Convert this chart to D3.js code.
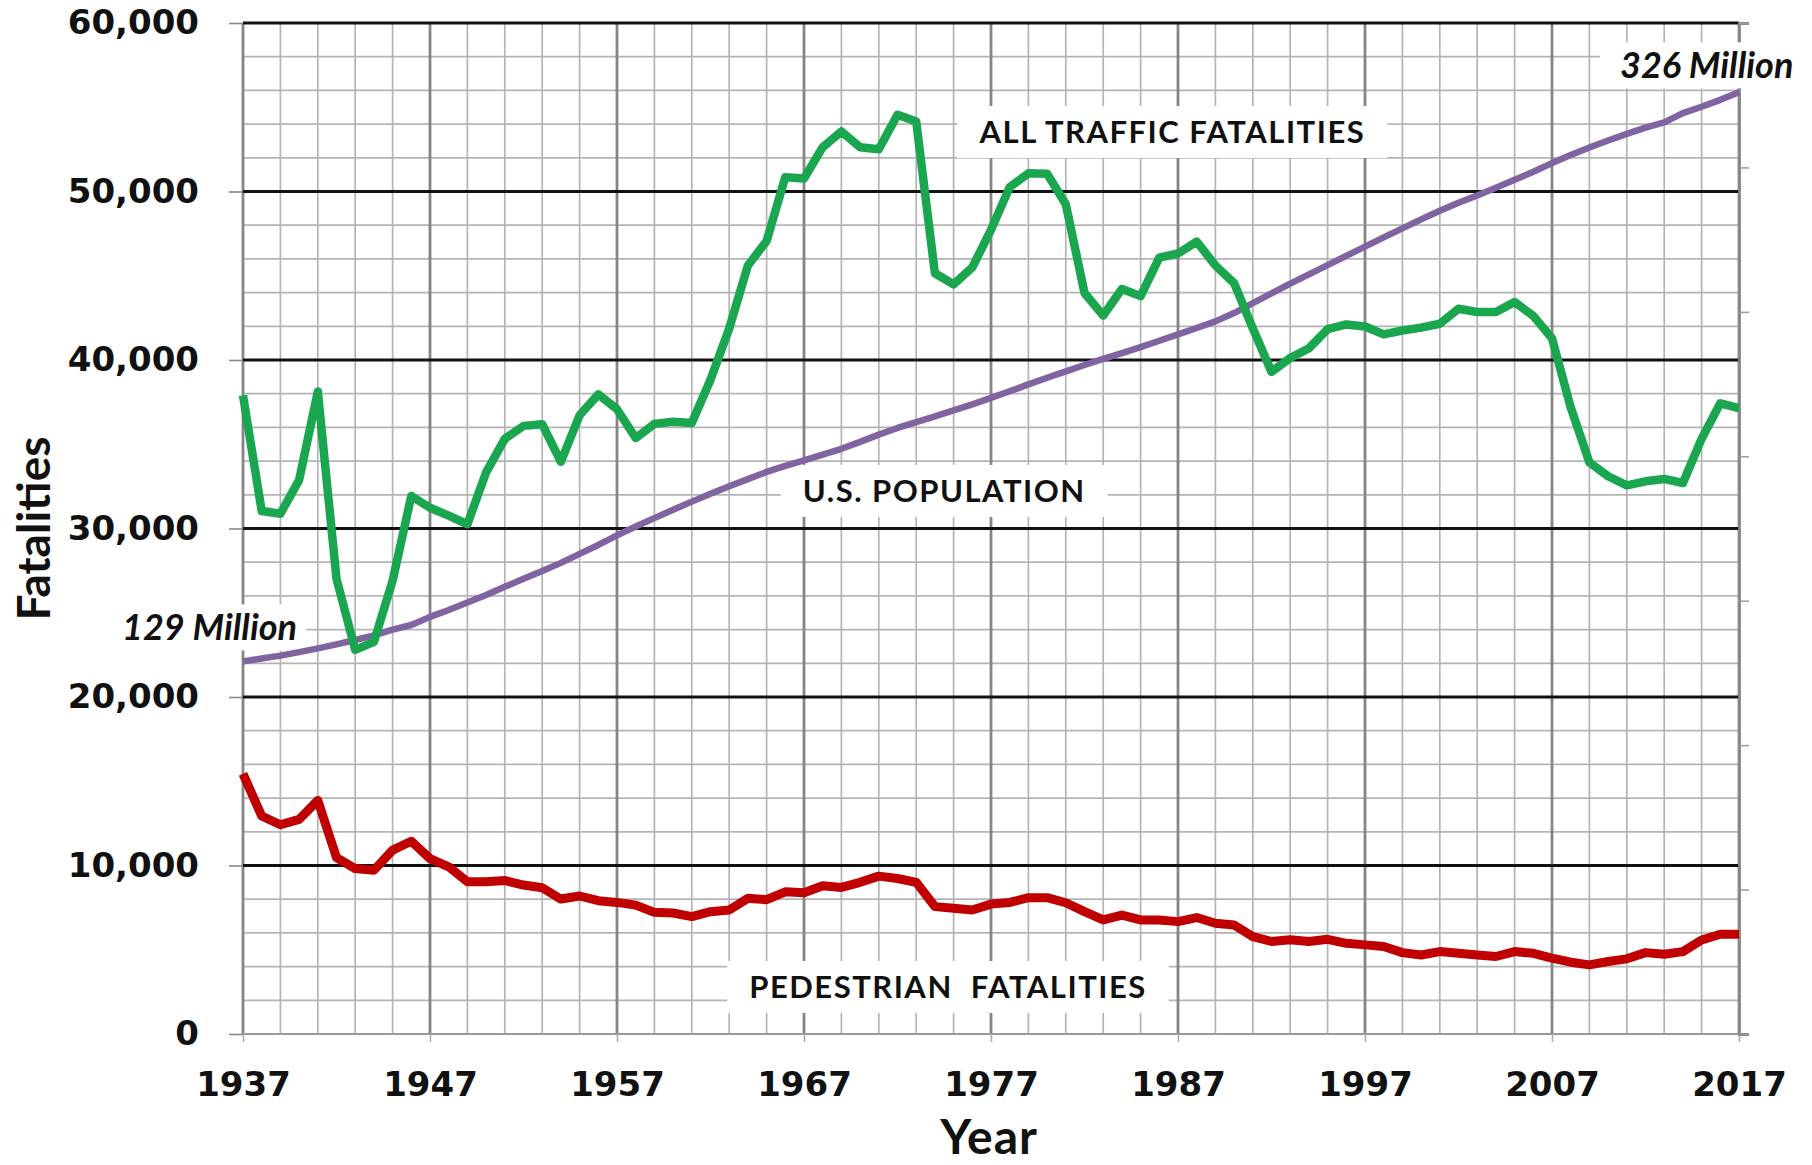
<!DOCTYPE html>
<html>
<head>
<meta charset="utf-8">
<script src="https://cdn.jsdelivr.net/npm/d3@7"></script>
<style>
  html, body { margin: 0; padding: 0; background: #fff; }
  svg { display: block; }
</style>
</head>
<body>
<div id="chart"></div>
<script>
// ---- data ----
const years = d3.range(1937, 2018);

const allTraffic = [
  37900, 31040, 30880, 32870, 38130, 27020, 22800, 23270, 26900, 31930,
  31230, 30760, 30250, 33330, 35320, 36090, 36190, 33960, 36720, 37960,
  37080, 35370, 36210, 36330, 36260, 38830, 41870, 45610, 47060, 50850,
  50770, 52630, 53560, 52630, 52510, 54550, 54150, 45150, 44490, 45500,
  47720, 50260, 51080, 51050, 49240, 43980, 42640, 44210, 43790, 46080,
  46320, 47020, 45610, 44560, 41870, 39300, 40120, 40700, 41830, 42110,
  41990, 41520, 41750, 41920, 42150, 43040, 42850, 42850, 43440, 42620,
  41290, 37190, 33920, 33100, 32560, 32800, 32940, 32700, 35320, 37430,
  37150
];

const pedestrian = [
  15440, 12940, 12420, 12740, 13860, 10470, 9820, 9720, 10910, 11440,
  10410, 9920, 9030, 9030, 9110, 8840, 8680, 8010, 8190, 7910,
  7810, 7650, 7220, 7180, 6970, 7260, 7360, 8050, 7970, 8440,
  8380, 8800, 8700, 9000, 9370, 9230, 9000, 7560, 7460, 7360,
  7710, 7810, 8090, 8090, 7790, 7260, 6770, 7060, 6770, 6770,
  6670, 6910, 6570, 6470, 5780, 5490, 5590, 5490, 5620, 5380,
  5290, 5190, 4830, 4690, 4890, 4790, 4690, 4600, 4890, 4790,
  4500, 4260, 4100, 4300, 4460, 4830, 4730, 4890, 5580, 5920,
  5920
];

// U.S. population, millions (right-hand axis, 0-350)
const population = [
  129.0, 130.0, 131.0, 132.2, 133.5, 134.9, 136.4, 138.0, 140.0, 141.6,
  144.4, 146.8, 149.4, 152.0, 154.8, 157.6, 160.3, 163.1, 166.2, 169.3,
  172.6, 175.7, 178.6, 181.5, 184.3, 187.0, 189.6, 192.1, 194.6, 196.7,
  198.6, 200.6, 202.6, 205.0, 207.5, 209.8, 211.8, 213.8, 215.9, 218.0,
  220.2, 222.5, 224.9, 227.2, 229.4, 231.6, 233.7, 235.7, 237.8, 240.0,
  242.2, 244.4, 246.7, 249.6, 253.0, 256.4, 259.8, 263.0, 266.2, 269.4,
  272.6, 275.8, 278.9, 282.0, 285.0, 287.8, 290.3, 293.0, 295.7, 298.5,
  301.5, 304.3, 306.9, 309.3, 311.6, 313.8, 315.6, 318.8, 321.0, 323.4,
  326.0
];

const yTicks = [0, 10000, 20000, 30000, 40000, 50000, 60000];
const xTicks = [1937, 1947, 1957, 1967, 1977, 1987, 1997, 2007, 2017];
const popTicks = [0, 50, 100, 150, 200, 250, 300, 350];

const labels = [
  { text: "ALL TRAFFIC FATALITIES", year: 1986.7, value: 53530 },
  { text: "U.S. POPULATION", year: 1974.5, value: 32230 },
  { text: "PEDESTRIAN  FATALITIES", year: 1974.7, value: 2790 }
];

// ---- layout ----
const width = 1812, height = 1165;
const marginLeft = 243, marginRight = 73, marginTop = 23, marginBottom = 131;

const svg = d3.select("#chart").append("svg")
  .attr("width", width)
  .attr("height", height);

const x = d3.scaleLinear().domain([1937, 2017]).range([marginLeft, width - marginRight]);
const y = d3.scaleLinear().domain([0, 60000]).range([height - marginBottom, marginTop]);
const yPop = d3.scaleLinear().domain([0, 350]).range([height - marginBottom, marginTop]);

const x0 = x.range()[0], x1 = x.range()[1];
const yb = y.range()[0], yt = y.range()[1];

// minor grid
const grid = svg.append("g");
grid.selectAll(".vminor")
  .data(d3.range(1937, 2018, 2))
  .join("line")
  .attr("x1", d => x(d)).attr("x2", d => x(d))
  .attr("y1", yt).attr("y2", yb)
  .attr("stroke", "#b4b4b4").attr("stroke-width", 1.7);
grid.selectAll(".hminor")
  .data(d3.range(0, 60001, 2000))
  .join("line")
  .attr("x1", x0).attr("x2", x1)
  .attr("y1", d => y(d)).attr("y2", d => y(d))
  .attr("stroke", "#b4b4b4").attr("stroke-width", 1.7);

// major grid
grid.selectAll(".vmajor")
  .data(xTicks)
  .join("line")
  .attr("x1", d => x(d)).attr("x2", d => x(d))
  .attr("y1", yt).attr("y2", yb)
  .attr("stroke", "#858585").attr("stroke-width", 2.8);
grid.selectAll(".hmajor")
  .data(yTicks.filter(d => d > 0))
  .join("line")
  .attr("x1", x0).attr("x2", x1)
  .attr("y1", d => y(d)).attr("y2", d => y(d))
  .attr("stroke", "#111").attr("stroke-width", 2.8);
grid.append("line")
  .attr("x1", x0).attr("x2", x1).attr("y1", yb).attr("y2", yb)
  .attr("stroke", "#999").attr("stroke-width", 2);

// axes
const tickFont = "'DejaVu Sans', sans-serif";
const yAxis = svg.append("g")
  .attr("transform", `translate(${x0},0)`)
  .call(d3.axisLeft(y).tickValues(yTicks).tickSize(14).tickPadding(30).tickFormat(d3.format(",")));
yAxis.select(".domain").remove();
yAxis.selectAll(".tick line").attr("stroke", "#888").attr("stroke-width", 1.6);
yAxis.selectAll(".tick text")
  .attr("fill", "#111")
  .style("font-family", tickFont).style("font-weight", "bold").style("font-size", "34px");

const xAxis = svg.append("g")
  .attr("transform", `translate(0,${yb})`)
  .call(d3.axisBottom(x).tickValues(xTicks).tickSize(8).tickPadding(30).tickFormat(d3.format("d")));
xAxis.select(".domain").remove();
xAxis.selectAll(".tick line").attr("stroke", "#aaa").attr("stroke-width", 1.5);
xAxis.selectAll(".tick text")
  .attr("fill", "#111")
  .style("font-family", tickFont).style("font-weight", "bold").style("font-size", "34px");

const rAxis = svg.append("g")
  .attr("transform", `translate(${x1},0)`)
  .call(d3.axisRight(yPop).tickValues(popTicks).tickSize(10).tickFormat(""));
rAxis.select(".domain").attr("stroke", "#888").attr("stroke-width", 2.8);
rAxis.selectAll(".tick line").attr("stroke", "#999").attr("stroke-width", 1.5);

// axis titles
svg.append("text")
  .attr("transform", `translate(50,${(yt + yb) / 2}) rotate(-90)`)
  .attr("text-anchor", "middle")
  .style("font-family", "Lato, sans-serif").style("font-weight", "bold").style("font-size", "46px")
  .attr("fill", "#111")
  .text("Fatalities");
svg.append("text")
  .attr("x", x(1976.9)).attr("y", 1154)
  .attr("text-anchor", "middle")
  .style("font-family", "Lato, sans-serif").style("font-weight", "bold").style("font-size", "48px")
  .style("letter-spacing", "1px")
  .attr("fill", "#111")
  .text("Year");

// series labels with white boxes
const lab = svg.append("g");
labels.forEach(l => {
  const cx = x(l.year), cy = y(l.value);
  const t = lab.append("text")
    .attr("x", cx).attr("y", cy + 11)
    .attr("text-anchor", "middle")
    .attr("xml:space", "preserve")
    .style("white-space", "pre")
    .style("font-family", "Lato, sans-serif").style("font-weight", "bold").style("font-size", "31px")
    .style("letter-spacing", "1.5px")
    .attr("fill", "#111")
    .text(l.text);
  const w = t.node().getComputedTextLength();
  lab.insert("rect", () => t.node())
    .attr("x", cx - w / 2 - 22).attr("y", cy - 26)
    .attr("width", w + 44).attr("height", 52)
    .attr("fill", "#fff");
});

// population end labels
const popLabels = [
  { text: "129 Million", i: 0, dx: -121, dy: -33, bx: [118, 306] },
  { text: "326 Million", i: population.length - 1, dx: -119, dy: -26, bx: [1600, 1800] }
];
popLabels.forEach(p => {
  const px = x(years[p.i]) + p.dx, py = yPop(population[p.i]) + p.dy;
  lab.append("rect")
    .attr("x", p.bx[0]).attr("y", py - 24)
    .attr("width", p.bx[1] - p.bx[0]).attr("height", 46)
    .attr("fill", "#fff");
  lab.append("text")
    .attr("x", px).attr("y", py + 12)
    .attr("text-anchor", "start")
    .style("font-family", "Lato, sans-serif").style("font-weight", "bold")
    .style("font-style", "italic").style("font-size", "36px")
    .attr("fill", "#111")
    .text(p.text);
});

// lines
const line = (yScale) => d3.line().x((d, i) => x(years[i])).y(d => yScale(d));

svg.append("path")
  .datum(population)
  .attr("fill", "none").attr("stroke", "#8064a2").attr("stroke-width", 6.5)
  .attr("stroke-linejoin", "round")
  .attr("d", line(yPop));

svg.append("path")
  .datum(allTraffic)
  .attr("fill", "none").attr("stroke", "#1aa64e").attr("stroke-width", 8.5)
  .attr("stroke-linejoin", "round")
  .attr("d", line(y));

svg.append("path")
  .datum(pedestrian)
  .attr("fill", "none").attr("stroke", "#c00000").attr("stroke-width", 9)
  .attr("stroke-linejoin", "round")
  .attr("d", line(y));
</script>
</body>
</html>
